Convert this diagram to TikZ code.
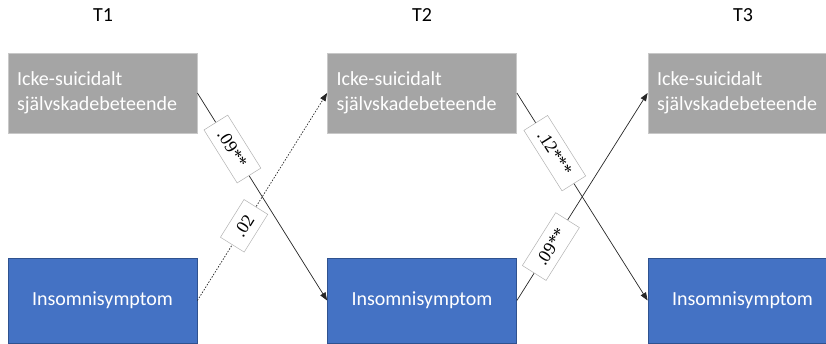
\documentclass[tikz,border=0pt]{standalone}
\usepackage{fontspec}
\setmainfont{Carlito}
\newfontfamily\coeffont{Liberation Serif}
\usetikzlibrary{arrows.meta}
\definecolor{boxgray}{HTML}{A5A5A5}
\definecolor{grayedge}{HTML}{C8C8C8}
\definecolor{boxblue}{HTML}{4472C4}
\definecolor{blueedge}{HTML}{2F528F}

\begin{document}
\begin{tikzpicture}[x=1pt,y=-1pt,
  graybox/.style={draw=grayedge, line width=0.8pt, fill=boxgray,
    minimum width=189pt, minimum height=80pt, text width=171pt,
    inner xsep=9pt, align=left, text=white,
    font=\fontsize{20}{25}\selectfont},
  bluebox/.style={draw=blueedge, line width=0.8pt, fill=boxblue,
    minimum width=189pt, minimum height=85pt, text=white,
    font=\fontsize{20}{24}\selectfont},
  timelabel/.style={font=\fontsize{20}{24}\selectfont, text=black},
  coef/.style={draw=black!30, solid, line width=0.5pt, fill=white, sloped,
    font=\coeffont\fontsize{18}{20}\selectfont, minimum height=28pt,
    inner xsep=11pt},
  arr/.style={-{Triangle[length=8pt,width=6pt]}, line width=0.7pt, draw=black!85}
]
\useasboundingbox (0,0) rectangle (826,343);

% time points
\node[timelabel] (t1) at (103,15) {T1};
\node[timelabel] (t2) at (422,15) {T2};
\node[timelabel] (t3) at (743,15) {T3};

% self-harm boxes
\node[graybox] (g1) at (102.5,93) {Icke-suicidalt\\självskadebeteende};
\node[graybox] (g2) at (422,93) {Icke-suicidalt\\självskadebeteende};
\node[graybox] (g3) at (742.5,93) {Icke-suicidalt\\självskadebeteende};

% insomnia boxes
\node[bluebox] (b1) at (102.5,300.5) {Insomnisymptom};
\node[bluebox] (b2) at (422,300.5) {Insomnisymptom};
\node[bluebox] (b3) at (742.5,300.5) {Insomnisymptom};

% cross-lagged paths
\draw[arr] (g1.east) -- node[coef, pos=0.27] {.09**} (b2.west);
\draw[arr, dash pattern=on 1.5pt off 1.5pt] (b1.east) -- node[coef, pos=0.36] {.02} (g2.west);
\draw[arr] (g2.east) -- node[coef, pos=0.29] {.12***} (b3.west);
\draw[arr] (b2.east) -- node[coef, pos=0.26] {.09**} (g3.west);
\end{tikzpicture}
\end{document}
